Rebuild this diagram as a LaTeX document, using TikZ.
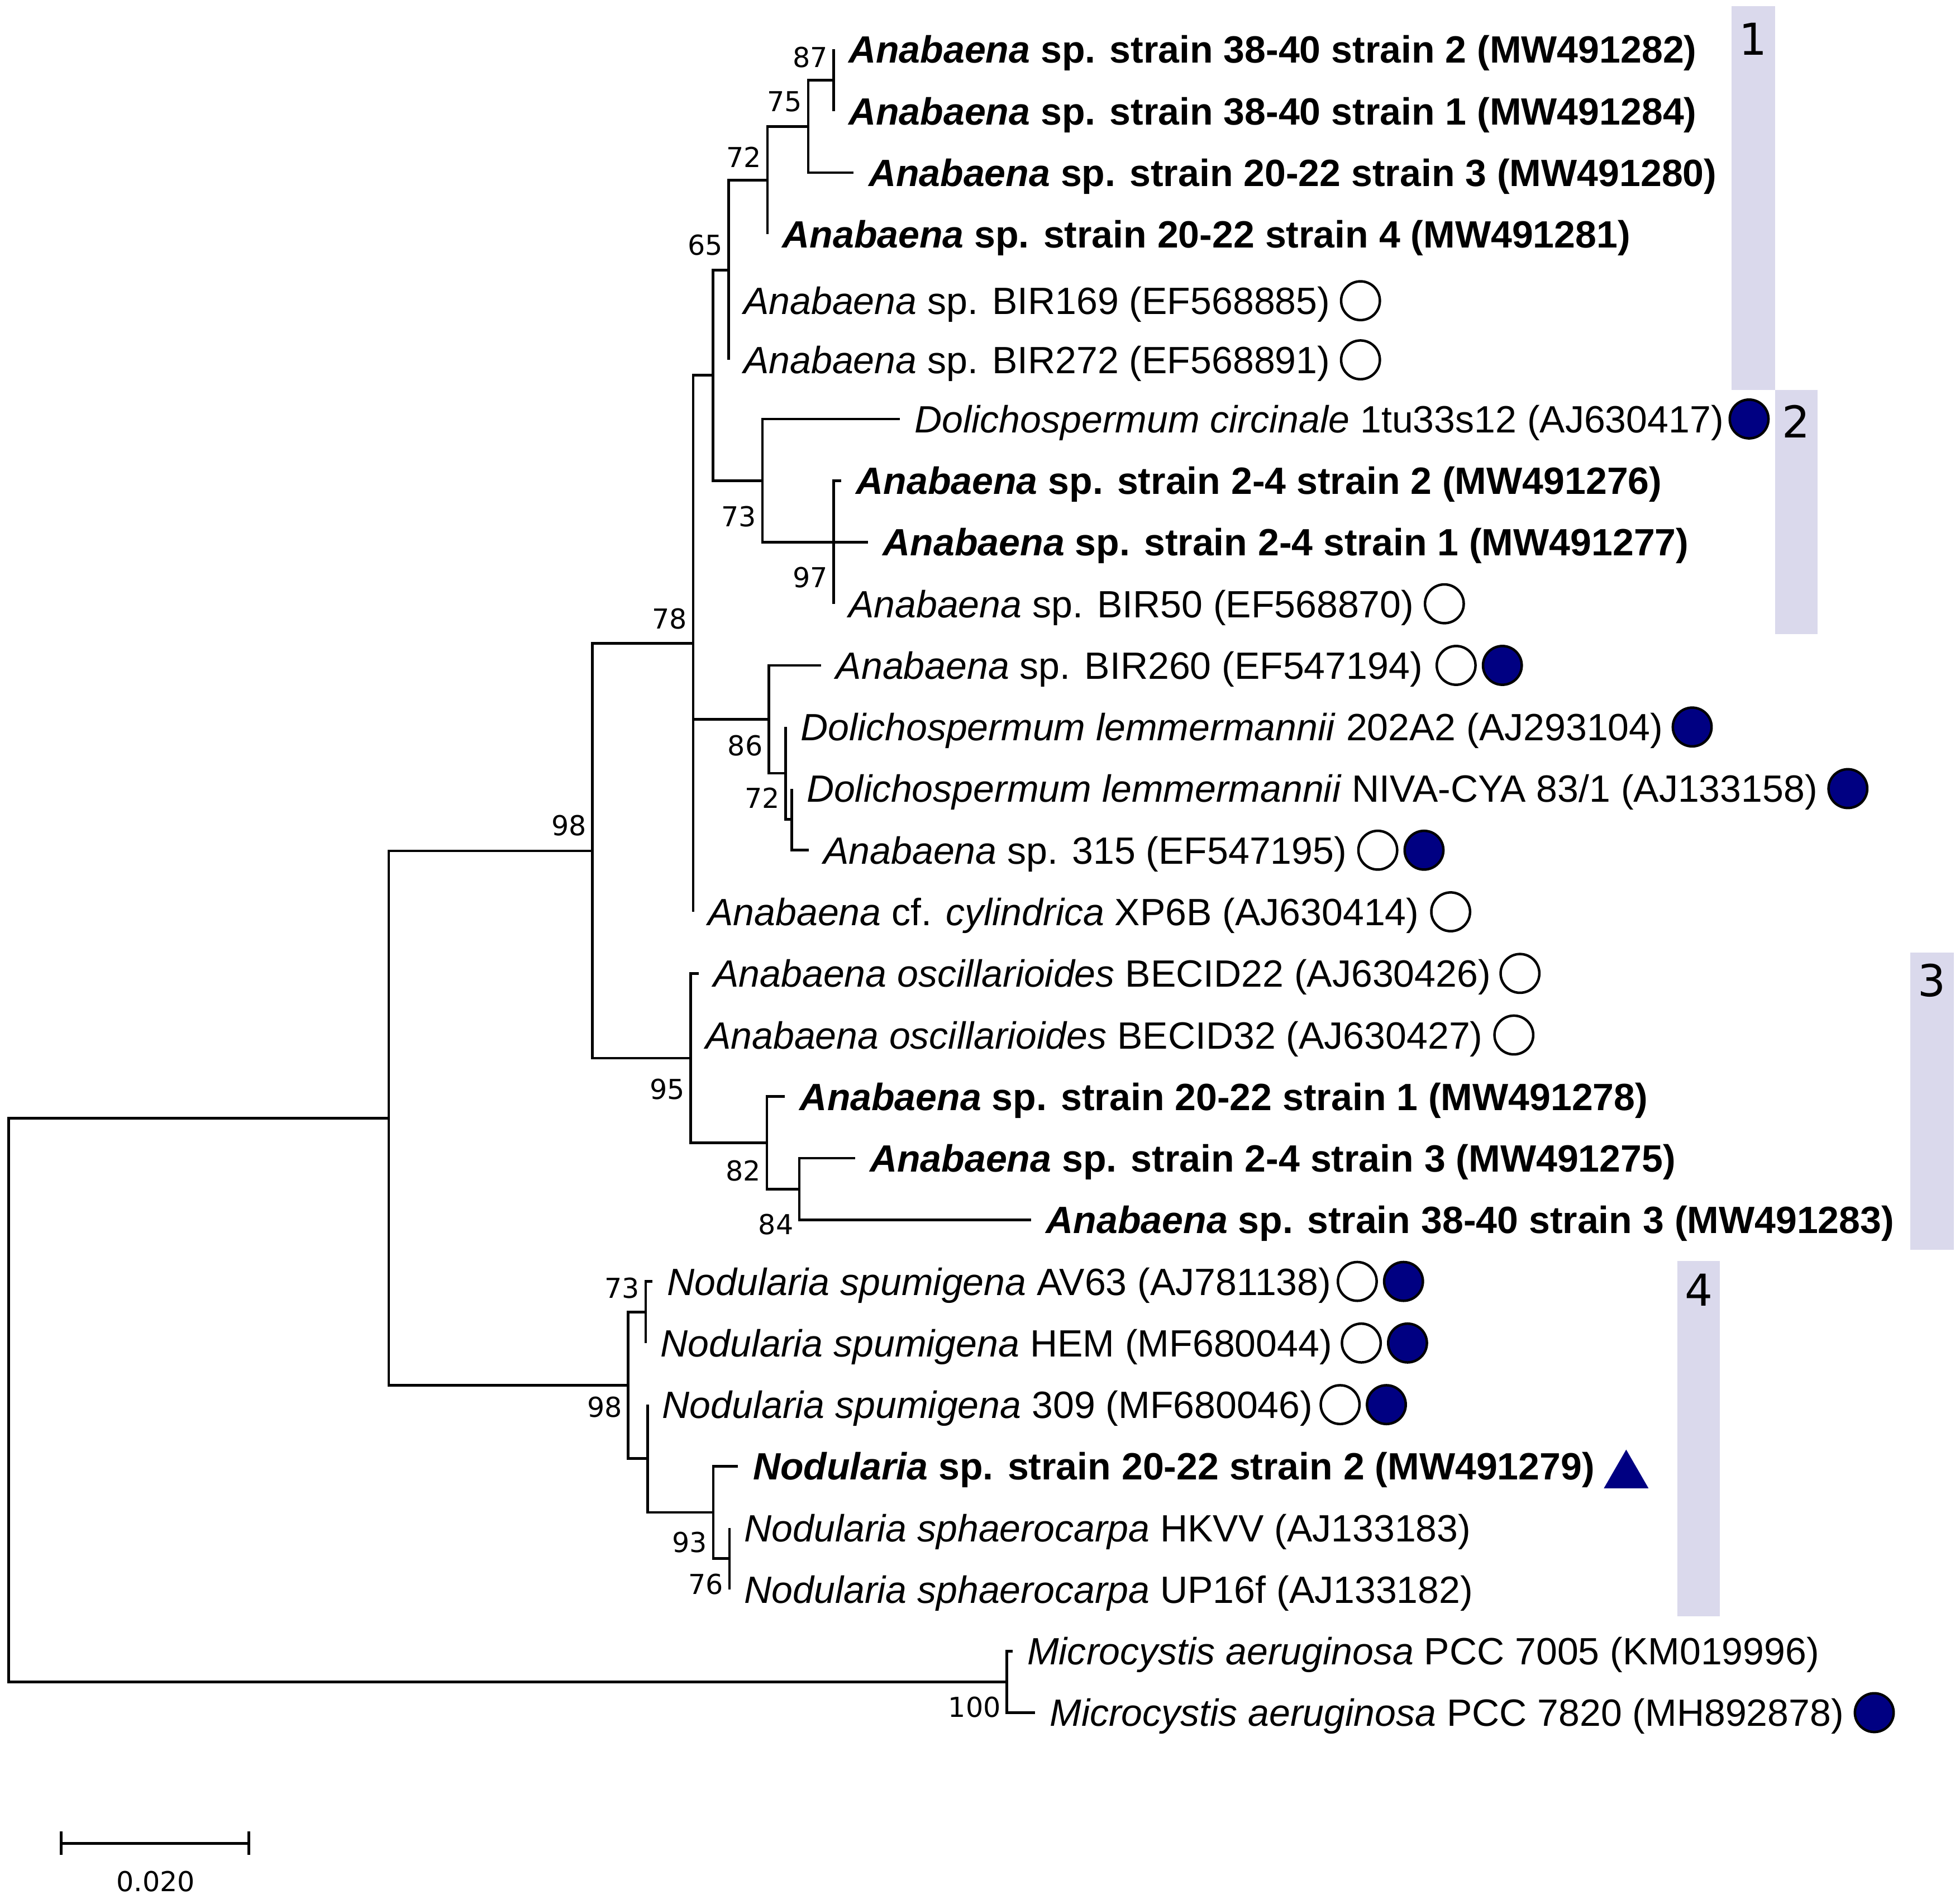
\documentclass[tikz,border=0pt]{standalone}
\usepackage{fontspec}
\setmainfont{Liberation Sans}
\newfontfamily\dejavu{DejaVu Sans}
\usepackage{tikz}
\usetikzlibrary{positioning,shapes.geometric,arrows.meta}
\definecolor{navyblue}{RGB}{0,0,130}
\definecolor{cladebg}{RGB}{218,217,236}

\begin{document}
\begin{tikzpicture}[x=0.02cm,y=-0.9856cm,
		br/.style={line width=0.042cm},
		sb/.style={line width=0.044cm,{Bar[width=0.38cm]}-{Bar[width=0.38cm]}},
		leaf/.style={inner sep=0pt,text height=0.437cm,text depth=0pt,font=\fontsize{17.3}{20}\selectfont},
		bleaf/.style={leaf,font=\fontsize{17.3}{20}\selectfont\bfseries},
		bs/.style={inner sep=0pt,text height=0.32cm,text depth=0pt,font=\dejavu\fontsize{12.5}{15}\selectfont},
		grp/.style={inner sep=0pt,font=\dejavu\fontsize{20}{24}\selectfont},
		ocirc/.style={circle,draw,line width=0.04cm,fill=white,minimum size=0.62cm,inner sep=0pt},
		fcirc/.style={ocirc,fill=navyblue},
		tri/.style={regular polygon,regular polygon sides=3,fill=navyblue,minimum size=0.824cm,inner sep=0pt},
		clade/.style={fill=cladebg}]
		\useasboundingbox (0,0.1985) rectangle (1568,31.022);
		
		\fill[clade] (1385,0.30) rectangle (1420,6.53);
		\fill[clade] (1420,6.53) rectangle (1454,10.49);
		\fill[clade] (1528,15.66) rectangle (1563,20.49);
		\fill[clade] (1342,20.67) rectangle (1376,26.44);
		\node[grp] (g1) at (1402.5,0.83) {1};
		\node[grp] (g2) at (1437,7.04) {2};
		\node[grp] (g3) at (1545.5,16.11) {3};
		\node[grp] (g4) at (1359,21.14) {4};
		
		\coordinate (n1) at (7,22.92);
		\coordinate (n2) at (311,18.35);
		\coordinate (n3) at (474,14.01);
		\coordinate (n4) at (554.5,10.645);
		\coordinate (n5) at (570.5,6.29);
		\coordinate (n6) at (583,4.5825);
		\coordinate (n7) at (614,3.125);
		\coordinate (n8) at (646.6,2.25);
		\coordinate (n9) at (667,1.5);
		\coordinate (n10) at (610,8);
		\coordinate (n11) at (667,9);
		\coordinate (n12) at (615,11.875);
		\coordinate (n13) at (628.6,12.75);
		\coordinate (n14) at (633.4,13.5);
		\coordinate (n15) at (552.6,17.375);
		\coordinate (n16) at (613.5,18.75);
		\coordinate (n17) at (639.5,19.5);
		\coordinate (n18) at (502.6,22.6875);
		\coordinate (n19) at (516.6,21.5);
		\coordinate (n20) at (518,23.875);
		\coordinate (n21) at (570.6,24.75);
		\coordinate (n22) at (583.6,25.5);
		\coordinate (n23) at (805.5,27.5);
		
		\coordinate (t1) at (667,1);
		\coordinate (t2) at (667,2);
		\coordinate (t3) at (683,3);
		\coordinate (t4) at (614,4);
		\coordinate (t5) at (583,5.08);
		\coordinate (t6) at (583,6.04);
		\coordinate (t7) at (720,7);
		\coordinate (t8) at (673,8);
		\coordinate (t9) at (694.5,9);
		\coordinate (t10) at (667,10);
		\coordinate (t11) at (657,11);
		\coordinate (t12) at (628.6,12);
		\coordinate (t13) at (633.4,13);
		\coordinate (t14) at (647,14);
		\coordinate (t15) at (554.5,15);
		\coordinate (t16) at (559,16);
		\coordinate (t17) at (552.6,17);
		\coordinate (t18) at (628,18);
		\coordinate (t19) at (684,19);
		\coordinate (t20) at (825,20);
		\coordinate (t21) at (522,21);
		\coordinate (t22) at (516.6,22);
		\coordinate (t23) at (518,23);
		\coordinate (t24) at (590.5,24);
		\coordinate (t25) at (583.6,25);
		\coordinate (t26) at (583.6,26);
		\coordinate (t27) at (810,27);
		\coordinate (t28) at (828,28);
		
		\draw[br]
		(n1)|-(n2) (n1)|-(n23)
		(n2)|-(n3) (n2)|-(n18)
		(n3)|-(n4) (n3)|-(n15)
		(n4)|-(n5) (n4)|-(n12) (n4)|-(t15)
		(n5)|-(n6) (n5)|-(n10)
		(n6)|-(n7) (n6)|-(t5) (n6)|-(t6)
		(n7)|-(n8) (n7)|-(t4)
		(n8)|-(n9) (n8)|-(t3)
		(n9)|-(t1) (n9)|-(t2)
		(n10)|-(t7) (n10)|-(n11)
		(n11)|-(t8) (n11)|-(t9) (n11)|-(t10)
		(n12)|-(t11) (n12)|-(n13)
		(n13)|-(t12) (n13)|-(n14)
		(n14)|-(t13) (n14)|-(t14)
		(n15)|-(t16) (n15)|-(t17) (n15)|-(n16)
		(n16)|-(t18) (n16)|-(n17)
		(n17)|-(t19) (n17)|-(t20)
		(n18)|-(n19) (n18)|-(n20)
		(n19)|-(t21) (n19)|-(t22)
		(n20)|-(t23) (n20)|-(n21)
		(n21)|-(t24) (n21)|-(n22)
		(n22)|-(t25) (n22)|-(t26)
		(n23)|-(t27) (n23)|-(t28);
		
		\node[bleaf,right=0.23cm of t1] (l1) {\textit{Anabaena} sp. strain 38-40 strain 2 (MW491282)};
		\node[bleaf,right=0.23cm of t2] (l2) {\textit{Anabaena} sp. strain 38-40 strain 1 (MW491284)};
		\node[bleaf,right=0.23cm of t3] (l3) {\textit{Anabaena} sp. strain 20-22 strain 3 (MW491280)};
		\node[bleaf,right=0.23cm of t4] (l4) {\textit{Anabaena} sp. strain 20-22 strain 4 (MW491281)};
		\node[leaf,right=0.23cm of t5] (l5) {\textit{Anabaena} sp. BIR169 (EF568885)};
		\node[leaf,right=0.23cm of t6] (l6) {\textit{Anabaena} sp. BIR272 (EF568891)};
		\node[leaf,right=0.23cm of t7] (l7) {\textit{Dolichospermum circinale} 1tu33s12 (AJ630417)};
		\node[bleaf,right=0.23cm of t8] (l8) {\textit{Anabaena} sp. strain 2-4 strain 2 (MW491276)};
		\node[bleaf,right=0.23cm of t9] (l9) {\textit{Anabaena} sp. strain 2-4 strain 1 (MW491277)};
		\node[leaf,right=0.23cm of t10] (l10) {\textit{Anabaena} sp. BIR50 (EF568870)};
		\node[leaf,right=0.23cm of t11] (l11) {\textit{Anabaena} sp. BIR260 (EF547194)};
		\node[leaf,right=0.23cm of t12] (l12) {\textit{Dolichospermum lemmermannii} 202A2 (AJ293104)};
		\node[leaf,right=0.23cm of t13] (l13) {\textit{Dolichospermum lemmermannii} NIVA-CYA 83/1 (AJ133158)};
		\node[leaf,right=0.23cm of t14] (l14) {\textit{Anabaena} sp. 315 (EF547195)};
		\node[leaf,right=0.23cm of t15] (l15) {\textit{Anabaena} cf. \textit{cylindrica} XP6B (AJ630414)};
		\node[leaf,right=0.23cm of t16] (l16) {\textit{Anabaena oscillarioides} BECID22 (AJ630426)};
		\node[leaf,right=0.23cm of t17] (l17) {\textit{Anabaena oscillarioides} BECID32 (AJ630427)};
		\node[bleaf,right=0.23cm of t18] (l18) {\textit{Anabaena} sp. strain 20-22 strain 1 (MW491278)};
		\node[bleaf,right=0.23cm of t19] (l19) {\textit{Anabaena} sp. strain 2-4 strain 3 (MW491275)};
		\node[bleaf,right=0.23cm of t20] (l20) {\textit{Anabaena} sp. strain 38-40 strain 3 (MW491283)};
		\node[leaf,right=0.23cm of t21] (l21) {\textit{Nodularia spumigena} AV63 (AJ781138)};
		\node[leaf,right=0.23cm of t22] (l22) {\textit{Nodularia spumigena} HEM (MF680044)};
		\node[leaf,right=0.23cm of t23] (l23) {\textit{Nodularia spumigena} 309 (MF680046)};
		\node[bleaf,right=0.23cm of t24] (l24) {\textit{Nodularia} sp. strain 20-22 strain 2 (MW491279)};
		\node[leaf,right=0.23cm of t25] (l25) {\textit{Nodularia sphaerocarpa} HKVV (AJ133183)};
		\node[leaf,right=0.23cm of t26] (l26) {\textit{Nodularia sphaerocarpa} UP16f (AJ133182)};
		\node[leaf,right=0.23cm of t27] (l27) {\textit{Microcystis aeruginosa} PCC 7005 (KM019996)};
		\node[leaf,right=0.23cm of t28] (l28) {\textit{Microcystis aeruginosa} PCC 7820 (MH892878)};
		
		\node[ocirc,right=0.15cm of l5] (c5) {};
		\node[ocirc,right=0.15cm of l6] (c6) {};
		\node[fcirc,right=0.07cm of l7] (c7) {};
		\node[ocirc,right=0.15cm of l10] (c10) {};
		\node[ocirc,right=0.2cm of l11] (c11) {};
		\node[fcirc,right=0.08cm of c11] (d11) {};
		\node[fcirc,right=0.13cm of l12] (c12) {};
		\node[fcirc,right=0.15cm of l13] (c13) {};
		\node[ocirc,right=0.16cm of l14] (c14) {};
		\node[fcirc,right=0.08cm of c14] (d14) {};
		\node[ocirc,right=0.17cm of l15] (c15) {};
		\node[ocirc,right=0.13cm of l16] (c16) {};
		\node[ocirc,right=0.16cm of l17] (c17) {};
		\node[ocirc,right=0.08cm of l21] (c21) {};
		\node[fcirc,right=0.08cm of c21] (d21) {};
		\node[ocirc,right=0.13cm of l22] (c22) {};
		\node[fcirc,right=0.08cm of c22] (d22) {};
		\node[ocirc,right=0.1cm of l23] (c23) {};
		\node[fcirc,right=0.08cm of c23] (d23) {};
		\node[tri,right=0.25cm of l24,yshift=-0.146cm] (c24) {};
		\node[fcirc,right=0.15cm of l28] (c28) {};
		
		\node[bs,above left=0.2cm and 0.09cm of n9] (b1) {87};
		\node[bs,above left=0.23cm and 0.09cm of n8] (b2) {75};
		\node[bs,above left=0.2cm and 0.09cm of n7] (b3) {72};
		\node[bs,above left=0.23cm and 0.09cm of n6] (b4) {65};
		\node[bs,above left=0.23cm and 0.09cm of n4] (b5) {78};
		\node[bs,above left=0.24cm and 0.09cm of n3] (b6) {98};
		\node[bs,below left=0.41cm and 0.09cm of n10] (b7) {73};
		\node[bs,below left=0.4cm and 0.09cm of n11] (b8) {97};
		\node[bs,below left=0.25cm and 0.09cm of n12] (b9) {86};
		\node[bs,below left=0.23cm and 0.09cm of n13] (b10) {72};
		\node[bs,below left=0.33cm and 0.09cm of n15] (b11) {95};
		\node[bs,below left=0.28cm and 0.09cm of n16] (b12) {82};
		\node[bs,below left=0.4cm and 0.09cm of n17] (b13) {84};
		\node[bs,below left=0.18cm and 0.09cm of n18] (b14) {98};
		\node[bs,above left=0.22cm and 0.09cm of n19] (b15) {73};
		\node[bs,below left=0.31cm and 0.09cm of n21] (b16) {93};
		\node[bs,below left=0.24cm and 0.09cm of n22] (b17) {76};
		\node[bs,below left=0.24cm and 0.09cm of n23] (b18) {100};
		
		\coordinate (s1) at (48,30.12);
		\coordinate (s2) at (200,30.12);
		\coordinate (s3) at (124.5,30.12);
		\draw[sb] (s1)--(s2);
		\node[bs,below=0.44cm of s3] (sl) {0.020};
\end{tikzpicture}
\end{document}
